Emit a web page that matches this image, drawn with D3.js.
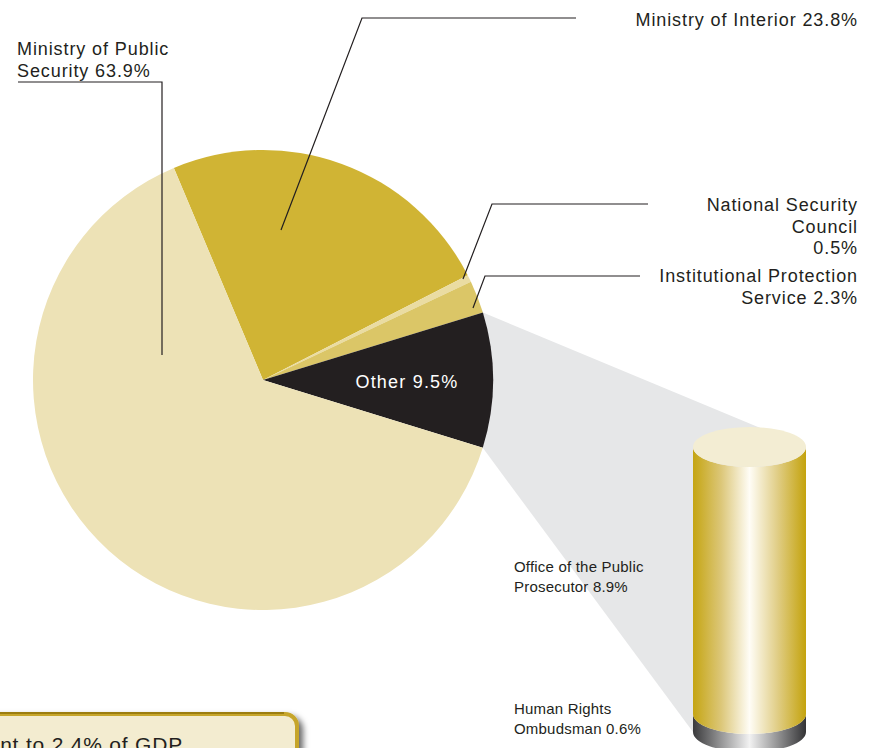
<!DOCTYPE html>
<html>
<head>
<meta charset="utf-8">
<script src="https://cdn.jsdelivr.net/npm/d3@7"></script>
<style>
  body { margin: 0; background: #fff; }
  svg { display: block; font-family: "Liberation Sans", Arial, sans-serif; }
</style>
</head>
<body>
<div id="chart"></div>
<script>
// budget shares (%), clockwise from the Interior slice
const agencies = ["Ministry of Interior", "National Security Council", "Institutional Protection Service", "Other", "Ministry of Public Security"];
const shares = [23.8, 0.5, 2.3, 9.5, 63.9];
const sliceColors = ["#d0b434", "#eadca2", "#dbc667", "#231f20", "#ede2b6"];

// breakdown of "Other"
const otherParts = ["Office of the Public Prosecutor", "Human Rights Ombudsman"];
const otherShares = [8.9, 0.6];

const W = 878, H = 748;
const cx = 263, cy = 380, R = 230;
const startDeg = -22.8;

const svg = d3.select("#chart").append("svg")
    .attr("width", W).attr("height", H);

const defs = svg.append("defs");
const gold = defs.append("linearGradient").attr("id", "gold");
[[0, "#c5a512"], [0.25, "#dcc779"], [0.5, "#fffdf6"], [0.75, "#e0cd85"], [1, "#c4a30d"]]
    .forEach(s => gold.append("stop").attr("offset", s[0]).attr("stop-color", s[1]));
const steel = defs.append("linearGradient").attr("id", "steel");
[[0, "#3a3a3c"], [0.5, "#f2f2f2"], [1, "#333335"]]
    .forEach(s => steel.append("stop").attr("offset", s[0]).attr("stop-color", s[1]));
const shadow = defs.append("filter").attr("id", "shadow").attr("x", "-10%").attr("y", "-10%").attr("width", "130%").attr("height", "150%");
shadow.append("feDropShadow").attr("dx", 4).attr("dy", 4).attr("stdDeviation", 3).attr("flood-color", "#000").attr("flood-opacity", 0.6);

const pie = d3.pie().sort(null)
    .startAngle(startDeg * Math.PI / 180)
    .endAngle(startDeg * Math.PI / 180 + 2 * Math.PI);
const arcs = pie(shares);
const arc = d3.arc().innerRadius(0).outerRadius(R);
const pt = (a, r) => [cx + r * Math.sin(a), cy - r * Math.cos(a)];

// cylinder geometry
const cylX0 = 693, cylX1 = 806, cylTop = 447, cylBot = 732, ry = 20;
const cyl = d3.scaleLinear().domain([0, d3.sum(otherShares)]).range([cylTop, cylBot]);

// grey projection from the "Other" slice to the cylinder
const other = arcs[3];
const pa = pt(other.startAngle, R), pb = pt(other.endAngle, R);
svg.append("path")
    .attr("d", d3.line()([pa, [cylX1, cylTop], [cylX1, cylBot], [cylX0, cylBot], pb]))
    .attr("fill", "#e6e7e8");

// pie
svg.append("g").attr("transform", `translate(${cx},${cy})`)
  .selectAll("path").data(arcs).join("path")
    .attr("d", arc)
    .attr("fill", (d, i) => sliceColors[i]);

svg.append("text")
    .attr("x", 407).attr("y", 388)
    .attr("text-anchor", "middle").attr("fill", "#fff")
    .attr("font-size", 18).attr("letter-spacing", 1.2)
    .text(`${agencies[3]} ${shares[3]}%`);

// cylinder
const midX = (cylX0 + cylX1) / 2, rx = (cylX1 - cylX0) / 2;
function band(y0, y1) {
  return `M${cylX0},${y0} L${cylX0},${y1} A${rx},${ry} 0 0 0 ${cylX1},${y1} L${cylX1},${y0} A${rx},${ry} 0 0 1 ${cylX0},${y0} Z`;
}
const cumul = [0, otherShares[0], d3.sum(otherShares)];
svg.append("path").attr("d", band(cyl(cumul[1]), cyl(cumul[2]))).attr("fill", "url(#steel)");
svg.append("path").attr("d", band(cyl(cumul[0]), cyl(cumul[1]))).attr("fill", "url(#gold)");
svg.append("ellipse").attr("cx", midX).attr("cy", cylTop).attr("rx", rx).attr("ry", ry).attr("fill", "#f3edd3");

// leader lines and labels
const ink = "#231f20";
const leaders = [
  [[18, 82], [162, 82], [162, 355]],
  [[576, 18], [362, 18], [281, 230]],
  [[648, 204], [492, 204], [463, 279]],
  [[640, 276], [485, 276], [473, 308]]
];
svg.append("g").selectAll("path").data(leaders).join("path")
    .attr("d", d => d3.line()(d))
    .attr("fill", "none").attr("stroke", ink).attr("stroke-width", 1.2);

const labels = [
  { lines: ["Ministry of Public", `Security ${shares[4]}%`], x: 17, y: 55, anchor: "start" },
  { lines: [`${agencies[0]} ${shares[0]}%`], x: 858, y: 26, anchor: "end" },
  { lines: ["National Security", "Council", `${shares[1]}%`], x: 858, y: 211, anchor: "end" },
  { lines: ["Institutional Protection", `Service ${shares[2]}%`], x: 858, y: 282, anchor: "end" }
];
labels.forEach(l => {
  const t = svg.append("text").attr("x", l.x).attr("y", l.y)
      .attr("text-anchor", l.anchor).attr("fill", ink)
      .attr("font-size", 18).attr("letter-spacing", 0.9);
  l.lines.forEach((s, i) => t.append("tspan").attr("x", l.x).attr("dy", i ? 21.5 : 0).text(s));
});

const small = [
  { lines: ["Office of the Public", `Prosecutor ${otherShares[0]}%`], y: 572 },
  { lines: ["Human Rights", `Ombudsman ${otherShares[1]}%`], y: 714 }
];
small.forEach(l => {
  const t = svg.append("text").attr("x", 514).attr("y", l.y)
      .attr("fill", ink).attr("font-size", 15).attr("letter-spacing", 0.2);
  l.lines.forEach((s, i) => t.append("tspan").attr("x", 514).attr("dy", i ? 19.5 : 0).text(s));
});

// note box, bottom left
svg.append("rect")
    .attr("x", -20).attr("y", 714).attr("width", 317).attr("height", 80).attr("rx", 12)
    .attr("fill", "#f3ecd0").attr("stroke", "#c6a52a").attr("stroke-width", 4)
    .attr("filter", "url(#shadow)");
svg.append("line").attr("x1", -10).attr("x2", 284).attr("y1", 713).attr("y2", 713)
    .attr("stroke", "#8c7008").attr("stroke-width", 1.5);
svg.append("text").attr("x", 183).attr("y", 752).attr("text-anchor", "end")
    .attr("fill", ink).attr("font-size", 21).attr("letter-spacing", 0.8)
    .text("Security spending equivalent to 2.4% of GDP");
</script>
</body>
</html>
